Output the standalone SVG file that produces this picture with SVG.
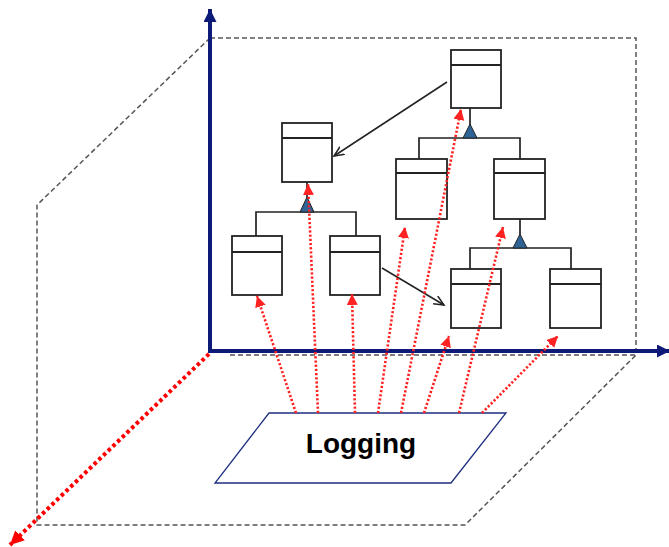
<svg xmlns="http://www.w3.org/2000/svg" width="669" height="547" viewBox="0 0 669 547">
  <style>
    .frame { fill: none; stroke: #555; stroke-width: 1.5; stroke-dasharray: 5 3; }
    .axis { fill: none; stroke: #0d1a78; stroke-width: 4; }
    .cls rect { fill: #fff; stroke: #222; stroke-width: 1.8; }
    .cls line { stroke: #222; stroke-width: 1.8; }
    .gen { fill: none; stroke: #222; stroke-width: 1.7; }
    .tri { fill: #2e6496; stroke: #222; stroke-width: 1; }
    .assoc { fill: none; stroke: #222; stroke-width: 1.5; }
    .trace { fill: none; stroke: #f22; stroke-width: 2.6; stroke-dasharray: 2.2 2; }
    .trace-big { fill: none; stroke: #f00; stroke-width: 4; stroke-dasharray: 3.5 3; }
    .label { font-family: "Liberation Sans", Arial, sans-serif; font-weight: bold; font-size: 28px; fill: #000; }
  </style>
  <defs>
    <marker id="redHead" markerUnits="userSpaceOnUse" markerWidth="12" markerHeight="12" refX="11" refY="5.5" orient="auto">
      <path d="M0,0 L11,5.5 L0,11 Z" fill="#f22"/>
    </marker>
    <marker id="redHeadBig" markerUnits="userSpaceOnUse" markerWidth="16" markerHeight="16" refX="14" refY="7" orient="auto">
      <path d="M0,0 L14,7 L0,14 Z" fill="#f00"/>
    </marker>
    <marker id="navyHead" markerUnits="userSpaceOnUse" markerWidth="14" markerHeight="14" refX="13" refY="6.5" orient="auto">
      <path d="M0,0 L13,6.5 L0,13 Z" fill="#0d1a78"/>
    </marker>
    <marker id="openHead" markerUnits="userSpaceOnUse" markerWidth="12" markerHeight="12" refX="10" refY="5" orient="auto">
      <path d="M0,0.5 L10,5 L0,9.5" fill="none" stroke="#222" stroke-width="1.5"/>
    </marker>
  </defs>

  <!-- perspective room outline -->
  <g id="room">
    <path class="frame" d="M210,38 H636 V355 H230"/>
    <path class="frame" d="M210,38 L37,205 V525 H465 L636,355"/>
  </g>

  <!-- axes -->
  <g id="axes">
    <line class="axis" x1="210" y1="353" x2="210" y2="9" marker-end="url(#navyHead)"/>
    <line class="axis" x1="208" y1="351" x2="670" y2="351" marker-end="url(#navyHead)"/>
  </g>

  <!-- logging aspect plane -->
  <g id="logging">
    <path d="M269,413 H506 L451,483 H215 Z" fill="#fff" stroke="#1f2f80" stroke-width="1.3"/>
    <text class="label" x="361" y="453" text-anchor="middle">Logging</text>
  </g>

  <!-- class boxes -->
  <g id="classA" class="cls"><rect x="282" y="123" width="50" height="59"/><line x1="282" y1="138" x2="332" y2="138"/></g>
  <g id="classB" class="cls"><rect x="232" y="236" width="50" height="59"/><line x1="232" y1="252" x2="282" y2="252"/></g>
  <g id="classC" class="cls"><rect x="330" y="236" width="50" height="59"/><line x1="330" y1="252" x2="380" y2="252"/></g>
  <g id="classD" class="cls"><rect x="451" y="50" width="50" height="58"/><line x1="451" y1="65" x2="501" y2="65"/></g>
  <g id="classE" class="cls"><rect x="396" y="159" width="51" height="60"/><line x1="396" y1="173" x2="447" y2="173"/></g>
  <g id="classF" class="cls"><rect x="494" y="159" width="51" height="60"/><line x1="494" y1="173" x2="545" y2="173"/></g>
  <g id="classG" class="cls"><rect x="451" y="269" width="50" height="59"/><line x1="451" y1="284" x2="501" y2="284"/></g>
  <g id="classH" class="cls"><rect x="550" y="269" width="51" height="59"/><line x1="550" y1="284" x2="601" y2="284"/></g>

  <!-- connectors -->
  <g id="connectors">
    <!-- generalization trees -->
    <path class="gen" d="M307,182 V198 M256,236 V212 H356 V236"/>
    <path class="tri" d="M307,197 L314,212 L300,212 Z"/>
    <path class="gen" d="M470,108 V125 M419,159 V138 H520 V159"/>
    <path class="tri" d="M470,124 L477,138 L463,138 Z"/>
    <path class="gen" d="M520,219 V235 M470,269 V248 H571 V269"/>
    <path class="tri" d="M520,234 L527,248 L513,248 Z"/>

    <!-- associations -->
    <line class="assoc" x1="447" y1="82" x2="334" y2="156" marker-end="url(#openHead)"/>
    <line class="assoc" x1="382" y1="268" x2="444" y2="305" marker-end="url(#openHead)"/>

    <!-- logging traces -->
    <line class="trace" x1="296" y1="413" x2="257" y2="296" marker-end="url(#redHead)"/>
    <line class="trace" x1="318" y1="413" x2="308" y2="184" marker-end="url(#redHead)"/>
    <line class="trace" x1="355" y1="413" x2="352" y2="294" marker-end="url(#redHead)"/>
    <line class="trace" x1="378" y1="413" x2="405" y2="227" marker-end="url(#redHead)"/>
    <line class="trace" x1="401" y1="413" x2="461" y2="109" marker-end="url(#redHead)"/>
    <line class="trace" x1="424" y1="413" x2="449" y2="336" marker-end="url(#redHead)"/>
    <line class="trace" x1="459" y1="413" x2="503" y2="227" marker-end="url(#redHead)"/>
    <line class="trace" x1="482" y1="413" x2="558" y2="336" marker-end="url(#redHead)"/>
    <line class="trace-big" x1="209" y1="354" x2="10" y2="545" marker-end="url(#redHeadBig)"/>
  </g>
</svg>
